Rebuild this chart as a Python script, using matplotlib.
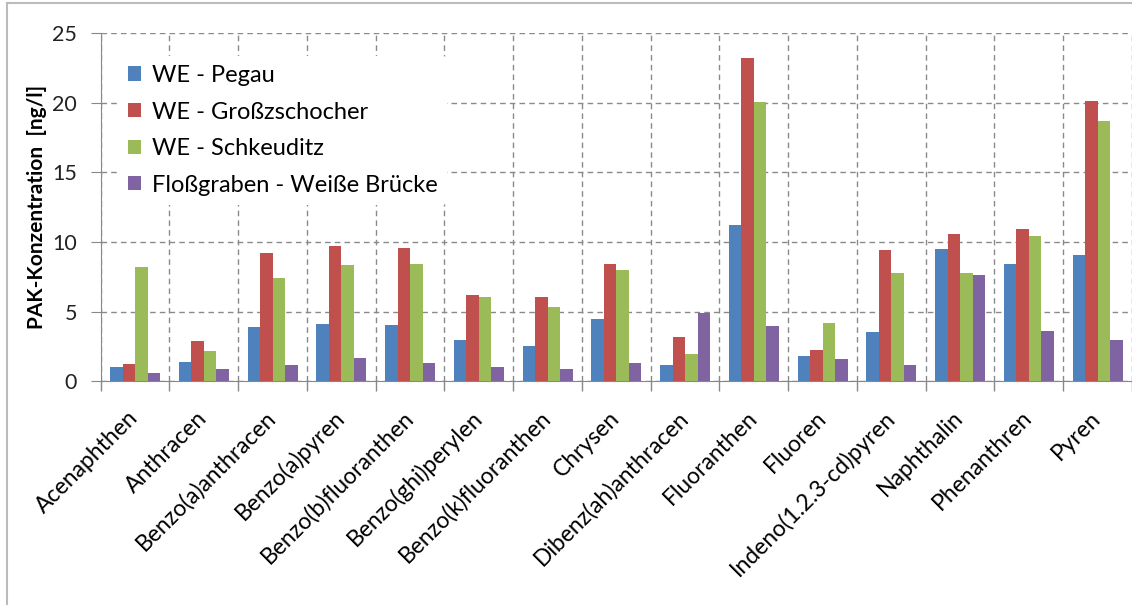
import numpy as np
import matplotlib.pyplot as plt
from matplotlib.lines import Line2D

plt.rcParams['font.family'] = ['Lato', 'DejaVu Sans']

# Daten, Werte in ng/l
stoffe = ['Acenaphthen', 'Anthracen', 'Benzo(a)anthracen', 'Benzo(a)pyren',
          'Benzo(b)fluoranthen', 'Benzo(ghi)perylen', 'Benzo(k)fluoranthen',
          'Chrysen', 'Dibenz(ah)anthracen', 'Fluoranthen', 'Fluoren',
          'Indeno(1.2.3-cd)pyren', 'Naphthalin', 'Phenanthren', 'Pyren']

pegau = [1.03, 1.4, 3.9, 4.1, 4.0, 2.95, 2.56, 4.45, 1.13, 11.2, 1.8, 3.52, 9.5, 8.43, 9.03]
grosszschocher = [1.22, 2.85, 9.2, 9.7, 9.6, 6.16, 6.06, 8.4, 3.14, 23.25, 2.23, 9.41, 10.6, 10.9, 20.1]
schkeuditz = [8.2, 2.15, 7.4, 8.33, 8.45, 6.06, 5.3, 8.02, 1.94, 20.04, 4.19, 7.74, 7.74, 10.44, 18.7]
flossgraben = [0.55, 0.84, 1.13, 1.68, 1.32, 1.03, 0.84, 1.32, 4.9, 3.95, 1.58, 1.13, 7.66, 3.61, 2.95]

reihen = [pegau, grosszschocher, schkeuditz, flossgraben]
namen = ['WE - Pegau', 'WE - Großzschocher', 'WE - Schkeuditz', 'Floßgraben - Weiße Brücke']
farben = ['#4F81BD', '#C0504D', '#9BBB59', '#8064A2']

fig = plt.figure(figsize=(11.32, 6.05), dpi=100)
ax = fig.add_axes([0.089, 0.370, 0.911, 0.575])

x = np.arange(len(stoffe))
breite = 0.181
for i in range(4):
    ax.bar(x + (i - 1.5) * breite, reihen[i], breite, color=farben[i],
           label=namen[i], zorder=3)

ax.set_xlim(-0.5, len(stoffe) - 0.5)
ax.set_ylim(0, 25)
ax.set_yticks([0, 5, 10, 15, 20, 25])

# Striche an den Kategoriegrenzen, Beschriftung in der Mitte
ax.set_xticks(np.arange(-0.5, len(stoffe)), labels=[''] * (len(stoffe) + 1))
ax.set_xticks(x, labels=stoffe, minor=True)
ax.tick_params(axis='x', which='major', length=7, color='#888888', width=1)
ax.tick_params(axis='x', which='minor', length=0, pad=24)
ax.tick_params(axis='y', length=7, color='#888888', labelsize=15.5, pad=10,
               labelcolor='#222222')
for lbl in ax.get_xticklabels(minor=True):
    lbl.set_rotation(45)
    lbl.set_ha('right')
    lbl.set_va('center')
    lbl.set_rotation_mode('anchor')
    lbl.set_fontsize(16.5)

ax.grid(True, which='major', linestyle=(0, (4, 3)), color='#8a8a8a', linewidth=1, zorder=0)
ax.set_axisbelow(True)

for s in ['top', 'right']:
    ax.spines[s].set_visible(False)
for s in ['left', 'bottom']:
    ax.spines[s].set_color('#888888')

ax.set_ylabel('PAK-Konzentration  [ng/l]', fontsize=15, fontweight='bold', labelpad=4)

leg = ax.legend(loc='upper left', bbox_to_anchor=(0.006, 0.97), fontsize=17,
                frameon=True, handlelength=0.55, handleheight=0.55,
                labelspacing=0.66, handletextpad=0.45, borderpad=0.4)
leg.get_frame().set_edgecolor('none')
leg.get_frame().set_facecolor('white')
leg.get_frame().set_alpha(1)

# Rahmen wie im Original (nur links und oben sichtbar)
fig.add_artist(Line2D([0.006, 0.006], [0, 0.995], color='#bbbbbb', linewidth=1.5))
fig.add_artist(Line2D([0.006, 1.0], [0.995, 0.995], color='#bbbbbb', linewidth=1.5))

fig.savefig('out.png', dpi=100)
